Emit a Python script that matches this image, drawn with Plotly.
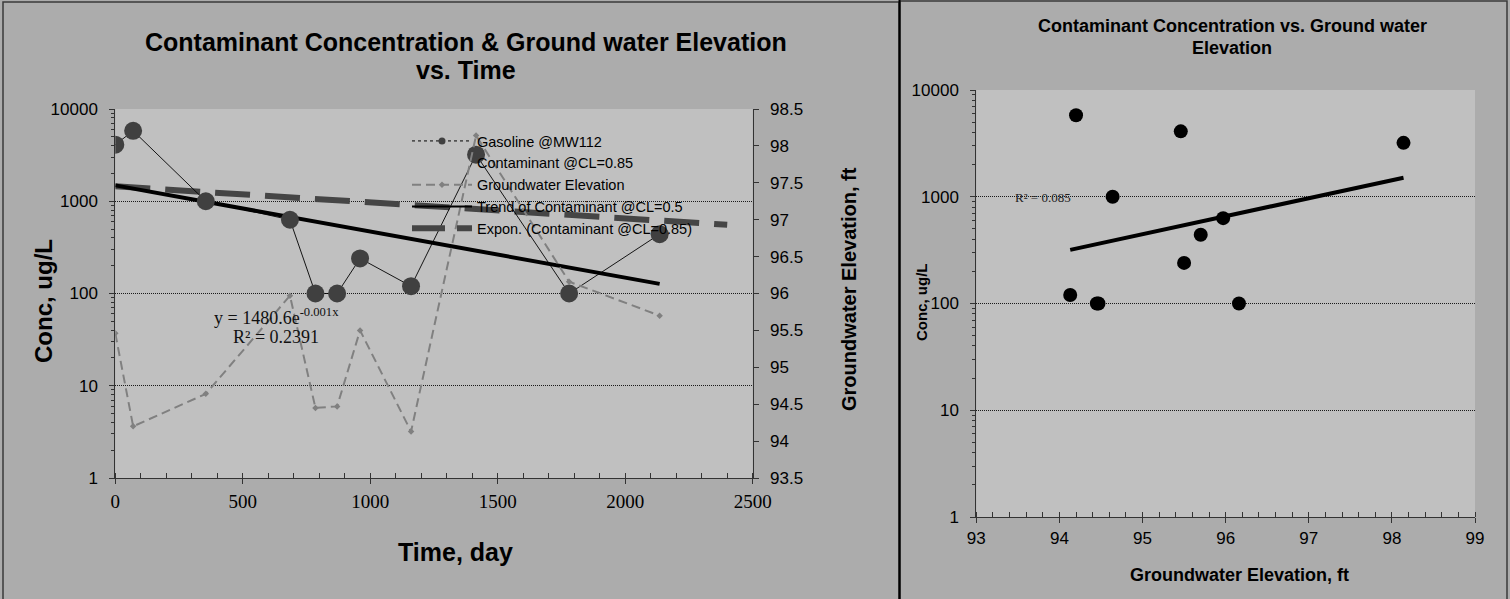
import numpy as np
import plotly.graph_objects as go

W, H = 1510, 599

# Monitoring well MW112: sampling day, gasoline concentration (ug/L), groundwater elevation (ft)
days = [0, 70, 355, 685, 785, 870, 960, 1160, 1415, 1780, 2135]
gasoline_ugL = [4100, 5800, 1000, 630, 100, 100, 240, 120, 3200, 100, 440]
gw_elev_ft = [95.46, 94.20, 94.64, 95.97, 94.45, 94.47, 95.50, 94.13, 98.14, 96.16, 95.70]

# Exponential trend for contaminant at CL=0.85 (coefficient, rate per day, day span)
cl85_coef = 1450.0
cl85_rate = -0.0004
cl85_span = [0, 2400]

conc_ticks = [1, 10, 100, 1000, 10000]
conc_tick_text = ["1", "10", "100", "1000", "10000"]
minor_conc_ticks = [m * d for d in (1, 10, 100, 1000) for m in range(2, 10)]

eq_text = "y = 1480.6e<sup>-0.001x</sup>"
r2_time_text = "R² = 0.2391"
r2_elev_text = "R² = 0.085"

SANS = "Liberation Sans, Arial, sans-serif"
SERIF = "Liberation Serif, Times New Roman, serif"
PANEL = "#acacac"
PLOT = "#c0c0c0"
AX = "#333333"
GRID_DASH = "1px,1px"


def px(x):
    return x / W


def py(y):
    return 1 - y / H


# exponential least-squares fits (log-linear)
t = np.array(days, float)
c = np.array(gasoline_ugL, float)
e = np.array(gw_elev_ft, float)
k_t, b_t = np.polyfit(t, np.log(c), 1)
t_fit = np.linspace(0, t.max(), 60)
c_fit_t = np.exp(b_t + k_t * t_fit)

k_e, b_e = np.polyfit(e, np.log(c), 1)
e_fit = np.linspace(e.min(), e.max(), 60)
c_fit_e = np.exp(b_e + k_e * e_fit)

cl85_x = np.linspace(cl85_span[0], cl85_span[1], 60)
cl85_y = cl85_coef * np.exp(cl85_rate * cl85_x)

fig = go.Figure()

# ---- left chart: concentration & elevation vs time ----
fig.add_trace(go.Scatter(x=cl85_x, y=cl85_y, mode="lines", showlegend=False,
                         line=dict(color="#454545", width=6, dash="35px,15px"),
                         xaxis="x", yaxis="y"))
fig.add_trace(go.Scatter(x=t_fit, y=c_fit_t, mode="lines", showlegend=False,
                         line=dict(color="black", width=4), xaxis="x", yaxis="y"))
fig.add_trace(go.Scatter(x=days, y=gasoline_ugL, mode="lines+markers", showlegend=False,
                         line=dict(color="black", width=0.9),
                         marker=dict(size=18, color="#404040"), xaxis="x", yaxis="y"))
fig.add_trace(go.Scatter(x=days, y=gw_elev_ft, mode="lines+markers", showlegend=False,
                         line=dict(color="#808080", width=2, dash="9px,5px"),
                         marker=dict(size=5, symbol="diamond", color="#808080"),
                         xaxis="x", yaxis="y2"))

# legend entries
fig.add_trace(go.Scatter(x=[None], y=[None], mode="lines+markers", name="Gasoline @MW112",
                         line=dict(color="black", width=1, dash="dot"),
                         marker=dict(size=7, color="#404040"), xaxis="x", yaxis="y"))
fig.add_trace(go.Scatter(x=[None], y=[None], mode="lines", name="Contaminant @CL=0.85",
                         line=dict(color="rgba(0,0,0,0)", width=1), xaxis="x", yaxis="y"))
fig.add_trace(go.Scatter(x=[None], y=[None], mode="lines+markers", name="Groundwater Elevation",
                         line=dict(color="#808080", width=2, dash="9px,5px"),
                         marker=dict(size=5, symbol="diamond", color="#808080"),
                         xaxis="x", yaxis="y"))
fig.add_trace(go.Scatter(x=[None], y=[None], mode="lines", name="Trend of Contaminant @CL=0.5",
                         line=dict(color="black", width=2), xaxis="x", yaxis="y"))
fig.add_trace(go.Scatter(x=[None], y=[None], mode="lines", name="Expon. (Contaminant @CL=0.85)",
                         line=dict(color="#454545", width=6, dash="33px,12px"),
                         xaxis="x", yaxis="y"))

# ---- right chart: concentration vs groundwater elevation ----
fig.add_trace(go.Scatter(x=e_fit, y=c_fit_e, mode="lines", showlegend=False,
                         line=dict(color="black", width=4), xaxis="x2", yaxis="y3"))
fig.add_trace(go.Scatter(x=gw_elev_ft, y=gasoline_ugL, mode="markers", showlegend=False,
                         marker=dict(size=14, color="black"), xaxis="x2", yaxis="y3"))


def log_axis(domain, anchor):
    return dict(
        domain=domain, anchor=anchor,
        type="log", range=[0, 4], tickmode="array", tickvals=conc_ticks, ticktext=conc_tick_text,
        showline=True, linecolor=AX, linewidth=1, ticks="outside", ticklen=5, tickcolor=AX,
        showgrid=True, gridcolor="#1a1a1a", griddash=GRID_DASH, gridwidth=1,
        minor=dict(tickmode="array", tickvals=minor_conc_ticks, ticks="outside", ticklen=3,
                   tickcolor=AX, showgrid=False),
        tickfont=dict(family=SANS, size=17, color="black"), zeroline=False, fixedrange=True,
        ticklabelstandoff=8, automargin=False,
    )


fig.update_layout(
    width=W, height=H, margin=dict(l=0, r=0, t=0, b=0, pad=0, autoexpand=False),
    paper_bgcolor=PANEL, plot_bgcolor=PLOT,
    xaxis=dict(domain=[px(115.3), px(752.7)], anchor="y", range=[0, 2500], dtick=500, tick0=0,
               showline=True, linecolor=AX, linewidth=1, ticks="outside", ticklen=5, tickcolor=AX,
               minor=dict(dtick=100, ticks="inside", ticklen=5, tickcolor=AX, showgrid=False),
               showgrid=False, zeroline=False, automargin=False,
               tickfont=dict(family=SERIF, size=19, color="black"), ticklabelstandoff=1),
    yaxis=log_axis([py(478), py(109)], "x"),
    yaxis2=dict(overlaying="y", side="right", anchor="x", range=[93.5, 98.5], dtick=0.5,
                tick0=93.5, showline=True, linecolor=AX, linewidth=1, ticks="outside",
                ticklen=5, tickcolor=AX, showgrid=False, zeroline=False, automargin=False,
                tickfont=dict(family=SANS, size=17, color="black"), ticklabelstandoff=8),
    xaxis2=dict(domain=[px(976.3), px(1475)], anchor="y3", range=[93, 99], dtick=1, tick0=93,
                showline=True, linecolor=AX, linewidth=1, ticks="outside", ticklen=5, tickcolor=AX,
                minor=dict(dtick=0.2, ticks="inside", ticklen=5, tickcolor=AX, showgrid=False),
                showgrid=False, zeroline=False, automargin=False,
                tickfont=dict(family=SANS, size=17, color="black"), ticklabelstandoff=1),
    yaxis3=log_axis([py(517), py(90)], "x2"),
    legend=dict(x=px(407), y=py(125), xanchor="left", yanchor="top",
                bgcolor="rgba(0,0,0,0)", font=dict(family=SANS, size=14.5, color="black"),
                itemwidth=60, tracegroupgap=0),
    showlegend=True,
)

ann = []


def label(text, x, y, size, family=SANS, bold=False, angle=0, color="black"):
    ann.append(dict(text=f"<b>{text}</b>" if bold else text, x=px(x), y=py(y),
                    xref="paper", yref="paper", showarrow=False, textangle=angle,
                    xanchor="center", yanchor="middle",
                    font=dict(family=family, size=size, color=color)))


# left chart texts
label("Contaminant Concentration & Ground water Elevation", 466, 42, 25, bold=True)
label("vs. Time", 466, 70, 25, bold=True)
label("Conc, ug/L", 43, 301, 24, bold=True, angle=-90)
label("Time, day", 455, 552, 25, bold=True)
label("Groundwater Elevation, ft", 849, 289, 20, bold=True, angle=-90)
label(eq_text, 276, 316, 18, family=SERIF, color="#111111")
label(r2_time_text, 276, 337, 18, family=SERIF, color="#111111")

# right chart texts
label("Contaminant Concentration vs. Ground water", 1232, 26, 18, bold=True)
label("Elevation", 1232, 48, 18, bold=True)
label("Conc, ug/L", 921, 302, 15, bold=True, angle=-90)
label("Groundwater Elevation, ft", 1239, 575, 18, bold=True)
label(r2_elev_text, 1043, 197, 13, family=SERIF, color="#222222")

fig.update_layout(annotations=ann)

# panel frames
fig.update_layout(shapes=[
    dict(type="rect", xref="paper", yref="paper", x0=px(3), x1=px(899), y0=py(600), y1=py(2),
         line=dict(color="#3a3a3a", width=1.5), layer="below"),
    dict(type="rect", xref="paper", yref="paper", x0=px(900), x1=px(1507), y0=py(600), y1=py(1),
         line=dict(color="#3a3a3a", width=1.5), layer="below"),
    dict(type="line", xref="paper", yref="paper", x0=px(899.5), x1=px(899.5), y0=0, y1=1,
         line=dict(color="black", width=2), layer="below"),
])

fig.write_html("out.html")
